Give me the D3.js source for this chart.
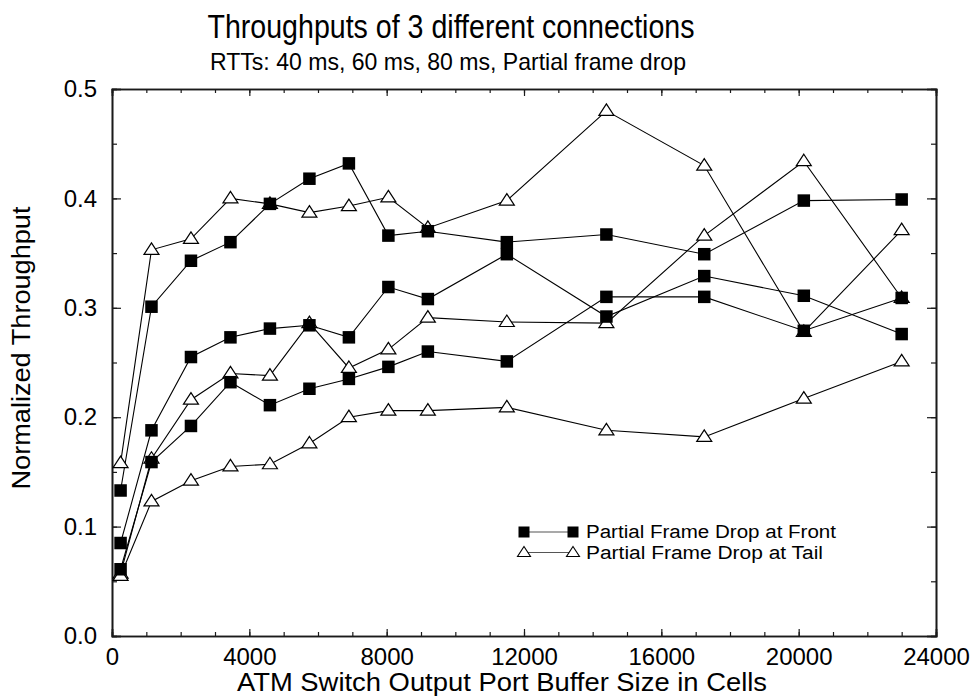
<!DOCTYPE html>
<html>
<head>
<meta charset="utf-8">
<script src="https://cdn.jsdelivr.net/npm/d3@7/dist/d3.min.js"></script>
<style>
  html, body { margin: 0; padding: 0; background: #fff; }
  svg { display: block; }
  text { font-family: "Liberation Sans", Arial, Helvetica, sans-serif; fill: #000; }
</style>
</head>
<body>
<svg id="chart" width="980" height="698"></svg>
<script>
// Buffer sizes (cells) at which each connection was measured
const bufferSizes = [250, 1150, 2300, 3450, 4600, 5750, 6900, 8050, 9200, 11500, 14400, 17250, 20150, 23000];

// Partial frame drop at front (filled squares), one array per connection
const frontConn1 = [0.133, 0.301, 0.343, 0.360, 0.395, 0.418, 0.432, 0.366, 0.370, 0.360, 0.367, 0.349, 0.398, 0.399];
const frontConn2 = [0.085, 0.188, 0.255, 0.273, 0.281, 0.284, 0.273, 0.319, 0.308, 0.349, 0.292, 0.329, 0.311, 0.276];
const frontConn3 = [0.061, 0.159, 0.192, 0.232, 0.211, 0.226, 0.235, 0.246, 0.260, 0.251, 0.310, 0.310, 0.279, 0.309];

// Partial frame drop at tail (open triangles), one array per connection
const tailConn1 = [0.158, 0.353, 0.363, 0.400, 0.395, 0.387, 0.393, 0.401, 0.373, 0.398, 0.480, 0.430, 0.278, 0.371];
const tailConn2 = [0.057, 0.162, 0.216, 0.240, 0.238, 0.286, 0.245, 0.262, 0.291, 0.287, 0.286, 0.366, 0.434, 0.309];
const tailConn3 = [0.055, 0.123, 0.142, 0.155, 0.157, 0.176, 0.200, 0.206, 0.206, 0.209, 0.188, 0.182, 0.217, 0.251];

// Axis tick values
const xMajorTicks = [0, 4000, 8000, 12000, 16000, 20000, 24000];
const xMinorTicks = d3.range(0, 24001, 1000);
const yMajorTicks = [0.0, 0.1, 0.2, 0.3, 0.4, 0.5];
const yMinorTicks = d3.range(0, 0.5001, 0.05);

const legendLabels = ["Partial Frame Drop at Front", "Partial Frame Drop at Tail"];

const svg = d3.select("#chart");
const plot = { left: 112, right: 936, top: 89, bottom: 636 };

const x = d3.scaleLinear().domain([0, 24000]).range([plot.left, plot.right]);
const y = d3.scaleLinear().domain([0, 0.5]).range([plot.bottom, plot.top]);

// Titles
svg.append("text").attr("x", 451).attr("y", 38).attr("text-anchor", "middle")
  .attr("font-size", 34).attr("textLength", 487).attr("lengthAdjust", "spacingAndGlyphs")
  .text("Throughputs of 3 different connections");
svg.append("text").attr("x", 448).attr("y", 70).attr("text-anchor", "middle")
  .attr("font-size", 24).attr("textLength", 476).attr("lengthAdjust", "spacingAndGlyphs")
  .text("RTTs: 40 ms, 60 ms, 80 ms, Partial frame drop");

// Axes: ticks point inward on all four sides
const axisColor = "#1a1a1a";
const bottomMajor = d3.axisBottom(x).tickValues(xMajorTicks).tickSize(-7).tickFormat(d3.format("d")).tickPadding(12);
const bottomMinor = d3.axisBottom(x).tickValues(xMinorTicks).tickSize(-4).tickFormat("");
const topMajor = d3.axisTop(x).tickValues(xMajorTicks).tickSize(-7).tickFormat("");
const topMinor = d3.axisTop(x).tickValues(xMinorTicks).tickSize(-4).tickFormat("");
const leftMajor = d3.axisLeft(y).tickValues(yMajorTicks).tickSize(-9).tickFormat(d3.format(".1f")).tickPadding(15);
const leftMinor = d3.axisLeft(y).tickValues(yMinorTicks).tickSize(-5).tickFormat("");
const rightMajor = d3.axisRight(y).tickValues(yMajorTicks).tickSize(-9).tickFormat("");
const rightMinor = d3.axisRight(y).tickValues(yMinorTicks).tickSize(-5).tickFormat("");

function drawAxis(axis, transform) {
  const g = svg.append("g").attr("transform", transform).call(axis);
  g.selectAll("path.domain").attr("stroke", axisColor).attr("stroke-width", 1.6);
  g.selectAll(".tick line").attr("stroke", axisColor).attr("stroke-width", 1.2);
  g.selectAll(".tick text").attr("font-size", 24)
    .attr("font-family", "'Liberation Sans', Arial, sans-serif").attr("fill", "#000");
  return g;
}
drawAxis(bottomMinor, `translate(0,${plot.bottom})`);
drawAxis(bottomMajor, `translate(0,${plot.bottom})`);
drawAxis(topMinor, `translate(0,${plot.top})`);
drawAxis(topMajor, `translate(0,${plot.top})`);
drawAxis(leftMinor, `translate(${plot.left},0)`);
drawAxis(leftMajor, `translate(${plot.left},0)`);
drawAxis(rightMinor, `translate(${plot.right},0)`);
drawAxis(rightMajor, `translate(${plot.right},0)`);

// Axis titles
svg.append("text").attr("x", 502).attr("y", 691).attr("text-anchor", "middle")
  .attr("font-size", 25).attr("textLength", 530).attr("lengthAdjust", "spacingAndGlyphs")
  .text("ATM Switch Output Port Buffer Size in Cells");
svg.append("text").attr("transform", "translate(30,348) rotate(-90)").attr("text-anchor", "middle")
  .attr("font-size", 25).attr("textLength", 283).attr("lengthAdjust", "spacingAndGlyphs")
  .text("Normalized Throughput");

// Series
const frontSeries = [frontConn1, frontConn2, frontConn3];
const tailSeries = [tailConn1, tailConn2, tailConn3];
const toPoints = vals => vals.map((v, i) => [bufferSizes[i], v]);
const line = d3.line().x(d => x(d[0])).y(d => y(d[1]));

const lines = svg.append("g");
[...frontSeries, ...tailSeries].forEach(s => {
  lines.append("path").datum(toPoints(s)).attr("d", line)
    .attr("fill", "none").attr("stroke", "#000").attr("stroke-width", 1.1);
});

const triPath = "M0,-7 L7.5,4.5 L-7.5,4.5 Z";
const sq = 12.5;

function drawTriangles(g, pts) {
  g.selectAll(null).data(pts).enter().append("path")
    .attr("d", triPath)
    .attr("transform", d => `translate(${x(d[0])},${y(d[1])})`)
    .attr("fill", "#fff").attr("stroke", "#000").attr("stroke-width", 1.2);
}
function drawSquares(g, pts) {
  g.selectAll(null).data(pts).enter().append("rect")
    .attr("x", d => x(d[0]) - sq / 2).attr("y", d => y(d[1]) - sq / 2)
    .attr("width", sq).attr("height", sq).attr("fill", "#000");
}

const markers = svg.append("g");
tailSeries.forEach(s => drawTriangles(markers.append("g"), toPoints(s)));
frontSeries.forEach(s => drawSquares(markers.append("g"), toPoints(s)));

// Legend
const legend = svg.append("g");
const legendRows = [
  { y: 532, label: legendLabels[0], kind: "square", len: 250 },
  { y: 552.5, label: legendLabels[1], kind: "triangle", len: 237 }
];
legendRows.forEach(r => {
  legend.append("line").attr("x1", 524).attr("x2", 573).attr("y1", r.y).attr("y2", r.y)
    .attr("stroke", "#555").attr("stroke-width", 1.1);
  const ends = [[524, r.y], [573, r.y]];
  if (r.kind === "square") {
    legend.selectAll(null).data(ends).enter().append("rect")
      .attr("x", d => d[0] - 5.5).attr("y", d => d[1] - 5.5)
      .attr("width", 11).attr("height", 11).attr("fill", "#000");
  } else {
    legend.selectAll(null).data(ends).enter().append("path")
      .attr("d", "M0,-6 L6.5,4 L-6.5,4 Z")
      .attr("transform", d => `translate(${d[0]},${d[1]})`)
      .attr("fill", "#fff").attr("stroke", "#000").attr("stroke-width", 1.1);
  }
  legend.append("text").attr("x", 586).attr("y", r.y + 6)
    .attr("font-size", 18).attr("textLength", r.len).attr("lengthAdjust", "spacingAndGlyphs")
    .text(r.label);
});
</script>
</body>
</html>
